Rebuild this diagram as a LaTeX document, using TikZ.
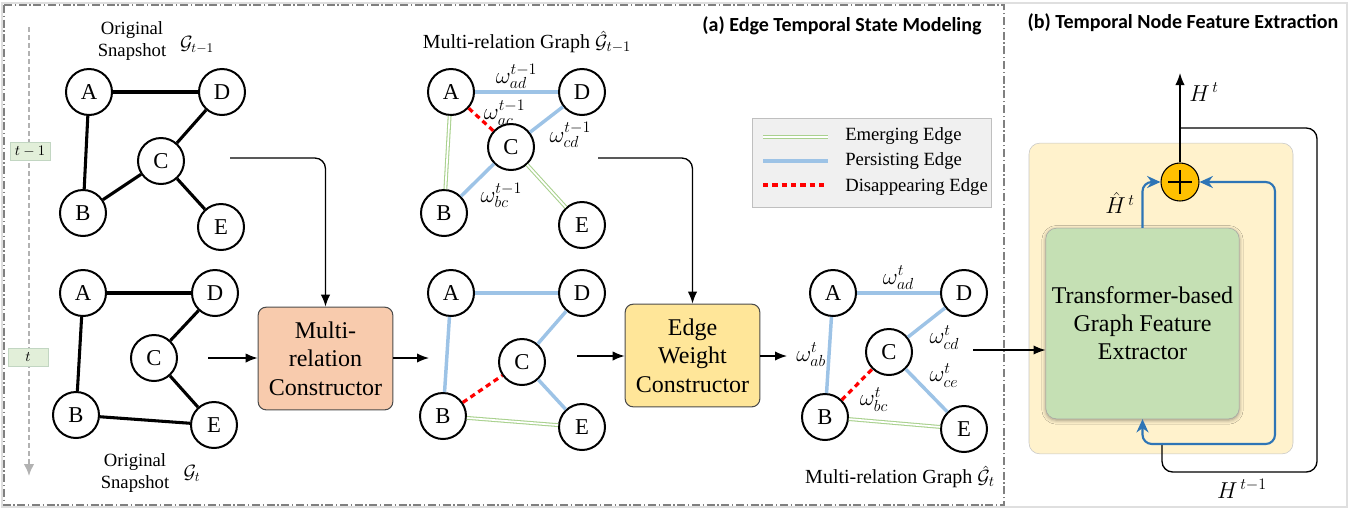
\documentclass[tikz,border=0pt]{standalone}
\usepackage{fontspec}
\setmainfont{LiberationSerif-Regular.ttf}[BoldFont=LiberationSerif-Bold.ttf,ItalicFont=LiberationSerif-Italic.ttf]
\newfontfamily\titlefont{Carlito}
\usetikzlibrary{arrows.meta,shadows.blur}

\definecolor{emerge}{RGB}{169,209,142}
\definecolor{persist}{RGB}{157,195,230}
\definecolor{peach}{RGB}{248,203,173}
\definecolor{butter}{RGB}{255,230,153}
\definecolor{cream}{RGB}{255,242,204}
\definecolor{sage}{RGB}{197,224,180}
\definecolor{flowblue}{RGB}{46,117,182}
\definecolor{tagfill}{RGB}{226,239,217}
\definecolor{sumfill}{RGB}{255,192,0}

\tikzset{
  vtx/.style={circle,draw,line width=1.5pt,fill=white,minimum size=34.5pt,inner sep=0pt,font=\fontsize{17}{20}\selectfont},
  old/.style={line width=2.3pt},
  persisting/.style={persist,line width=2.6pt},
  emerging/.style={emerge,double=white,double distance=1.3pt,line width=0.8pt},
  vanishing/.style={red,line width=2.4pt,dash pattern=on 4pt off 3pt},
  builder/.style={draw=black!70,rounded corners=6pt,align=center,line width=0.8pt,minimum width=101pt,minimum height=77pt,inner sep=1pt,font=\fontsize{18}{21.5}\selectfont},
  flow/.style={-{Latex[length=9pt,width=7pt]},line width=1pt},
  feed/.style={flowblue,-{Stealth[length=10pt,width=9pt]},line width=1.6pt},
  wlabel/.style={text=black,font=\fontsize{17}{20}\selectfont,inner sep=1pt},
  caption/.style={align=center,font=\fontsize{14}{16.5}\selectfont},
  gname/.style={font=\fontsize{14}{16.5}\selectfont},
  tag/.style={draw=green!20!gray!40,fill=tagfill,minimum width=30pt,minimum height=13.5pt,inner sep=0pt,font=\fontsize{11}{13}\selectfont},
  panel/.style={gray,line width=0.8pt,dash pattern=on 6pt off 2pt on 1pt off 2pt},
  timeline/.style={gray!60,line width=1.6pt,dash pattern=on 4pt off 2pt,-{Latex[length=9pt,width=8pt]}},
  heading/.style={font=\titlefont\bfseries\fontsize{15}{18}\selectfont}
}

\begin{document}
\begin{tikzpicture}[x=0.75pt,y=-0.75pt]
\useasboundingbox (0,0) rectangle (1364,508);
\draw[gray!25,line width=1pt] (2,3) rectangle (1347,507);
\draw[panel] (4,5) rectangle (1004,505);

\node[heading] (titlea) at (842,26) {(a) Edge Temporal State Modeling};
\node[heading] (titleb) at (1183,23) {(b) Temporal Node Feature Extraction};

% time axis
\coordinate (t0) at (29,27);
\coordinate (t1) at (29,476);
\draw[timeline] (t0) -- (t1);
\node[tag] (tprev) at (30,151) {$t-1$};
\node[tag] (tnow) at (28,357) {$t$};

% original snapshot t-1
\node[caption] (cap1) at (132,41) {Original\\Snapshot};
\node[gname] (g1) at (197,45) {$\mathcal{G}_{t-1}$};
\node[vtx] (a1) at (89,92) {A};
\node[vtx] (d1) at (222,92) {D};
\node[vtx] (c1) at (161,161) {C};
\node[vtx] (b1) at (83,213) {B};
\node[vtx] (e1) at (221,227) {E};
\draw[old] (a1) -- (d1);
\draw[old] (a1) -- (b1);
\draw[old] (d1) -- (c1);
\draw[old] (c1) -- (b1);
\draw[old] (c1) -- (e1);

% original snapshot t
\node[vtx] (a2) at (83,293) {A};
\node[vtx] (d2) at (215,293) {D};
\node[vtx] (c2) at (154,358) {C};
\node[vtx] (b2) at (76,415) {B};
\node[vtx] (e2) at (214,425) {E};
\draw[old] (a2) -- (d2);
\draw[old] (a2) -- (b2);
\draw[old] (d2) -- (c2);
\draw[old] (c2) -- (e2);
\draw[old] (b2) -- (e2);
\node[caption] (cap2) at (135,473) {Original\\Snapshot};
\node[gname] (g2) at (192,473) {$\mathcal{G}_{t}$};

% constructors
\node[builder,fill=peach] (mrc) at (325.5,358.5) {Multi-\\relation\\Constructor};
\node[builder,fill=butter] (ewc) at (692.5,355.5) {Edge\\Weight\\Constructor};

% multi-relation graph t-1
\node[font=\fontsize{15}{18}\selectfont] (cap3) at (527,42) {Multi-relation Graph $\hat{\mathcal{G}}_{t-1}$};
\node[vtx] (a3) at (451,92) {A};
\node[vtx] (d3) at (582,92) {D};
\node[vtx] (c3) at (511,147) {C};
\node[vtx] (b3) at (444,213) {B};
\node[vtx] (e3) at (582,225) {E};
\draw[persisting] (a3) -- (d3) node[midway,above,wlabel] {$\omega_{ad}^{t-1}$};
\draw[vanishing] (a3) -- (c3) node[midway,right,wlabel,yshift=5pt] {$\omega_{ac}^{t-1}$};
\draw[persisting] (c3) -- (d3) node[midway,below right,wlabel] {$\omega_{cd}^{t-1}$};
\draw[persisting] (b3) -- (c3) node[midway,below right,wlabel] {$\omega_{bc}^{t-1}$};
\draw[emerging] (a3) -- (b3);
\draw[emerging] (c3) -- (e3);

% multi-relation graph t
\node[vtx] (a4) at (451,293) {A};
\node[vtx] (d4) at (582,293) {D};
\node[vtx] (c4) at (522,362) {C};
\node[vtx] (b4) at (443,416) {B};
\node[vtx] (e4) at (582,427) {E};
\draw[persisting] (a4) -- (d4);
\draw[persisting] (a4) -- (b4);
\draw[persisting] (d4) -- (c4);
\draw[persisting] (c4) -- (e4);
\draw[vanishing] (b4) -- (c4);
\draw[emerging] (b4) -- (e4);

% weighted multi-relation graph t
\node[vtx] (a5) at (833,293) {A};
\node[vtx] (d5) at (964,293) {D};
\node[vtx] (c5) at (889,352) {C};
\node[vtx] (b5) at (825,417) {B};
\node[vtx] (e5) at (964,429) {E};
\draw[persisting] (a5) -- (d5) node[midway,above,wlabel] {$\omega_{ad}^{t}$};
\draw[persisting] (a5) -- (b5) node[midway,left,wlabel] {$\omega_{ab}^{t}$};
\draw[persisting] (c5) -- (d5) node[midway,below right,wlabel] {$\omega_{cd}^{t}$};
\draw[persisting] (c5) -- (e5) node[midway,above right,wlabel] {$\omega_{ce}^{t}$};
\draw[vanishing] (b5) -- (c5) node[midway,below right,wlabel] {$\omega_{bc}^{t}$};
\draw[emerging] (b5) -- (e5);
\node[font=\fontsize{15}{18}\selectfont] (cap5) at (900,477) {Multi-relation Graph $\hat{\mathcal{G}}_{t}$};

% legend
\node[draw=gray!50,fill=gray!12,minimum width=179pt,minimum height=67pt] (legend) at (871.5,162.5) {};
\coordinate (l1a) at (763,137); \coordinate (l1b) at (828,137);
\coordinate (l2a) at (763,161); \coordinate (l2b) at (828,161);
\coordinate (l3a) at (763,185); \coordinate (l3b) at (828,185);
\draw[emerging] (l1a) -- (l1b);
\draw[persisting] (l2a) -- (l2b);
\draw[vanishing] (l3a) -- (l3b);
\node[anchor=west,font=\fontsize{14}{16}\selectfont,inner sep=0pt] (lt1) at (845,136) {Emerging Edge};
\node[anchor=west,font=\fontsize{14}{16}\selectfont,inner sep=0pt] (lt2) at (845,161) {Persisting Edge};
\node[anchor=west,font=\fontsize{14}{16}\selectfont,inner sep=0pt] (lt3) at (845,187) {Disappearing Edge};

% flows in (a)
\coordinate (prevout) at (230,158);
\coordinate (nowout) at (208,358);
\coordinate (mrin) at (429,358);
\coordinate (midout) at (577,356);
\coordinate (topout) at (598,158);
\coordinate (wtin) at (787,356);
\coordinate (wout) at (973,350);
\draw[flow,rounded corners=8pt] (prevout) -| (mrc.north);
\draw[flow] (nowout) -- (mrc.west |- nowout);
\draw[flow] (mrc.east |- mrin) -- (mrin);
\draw[flow] (midout) -- (ewc.west |- midout);
\draw[flow,rounded corners=8pt] (topout) -| (ewc.north);
\draw[flow] (ewc.east |- wtin) -- (wtin);

% panel (b)
\node[draw=gray!45,fill=cream,rounded corners=8pt,minimum width=198pt,minimum height=233pt] (tnfe) at (1161,298.5) {};
\node[draw=gray!70,fill=sage,rounded corners=8pt,minimum width=145pt,minimum height=143pt,align=center,
  font=\fontsize{18}{21}\selectfont,blur shadow={shadow xshift=0pt,shadow yshift=-1pt,shadow blur radius=3pt,shadow opacity=40}] (gfe) at (1142.5,323.5) {Transformer-based\\Graph Feature\\Extractor};
\node[circle,draw,line width=0.8pt,fill=sumfill,minimum size=28.5pt,inner sep=0pt,
  path picture={\draw[line width=0.9pt] (path picture bounding box.center) ++(-9pt,0) -- ++(18pt,0)
  (path picture bounding box.center) ++(0,-9pt) -- ++(0,18pt);}] (sum) at (1180,182) {};
\draw[flow] (wout) -- (gfe.west |- wout);
\coordinate (hout) at (1180,73);
\coordinate (loopstart) at (1180,128);
\coordinate (join) at (1162,444);
\draw[flow] (sum.north) -- (hout);
\draw[line width=1pt,rounded corners=8pt] (loopstart) -- (1317,128) -- (1317,472) -| (join);
\draw[feed,rounded corners=7pt] (gfe.north) |- (sum.west);
\draw[feed,rounded corners=7pt] (join) -| (gfe.south);
\draw[feed,rounded corners=7pt] (join) -- (1275,444) |- (sum.east);
\node[font=\fontsize{17}{20}\selectfont] (ht) at (1204,92) {$H^{\,t}$};
\node[font=\fontsize{17}{20}\selectfont] (hhat) at (1120,203) {$\hat{H}^{\,t}$};
\node[font=\fontsize{17}{20}\selectfont] (hprev) at (1242,489) {$H^{\,t-1}$};
\end{tikzpicture}
\end{document}
